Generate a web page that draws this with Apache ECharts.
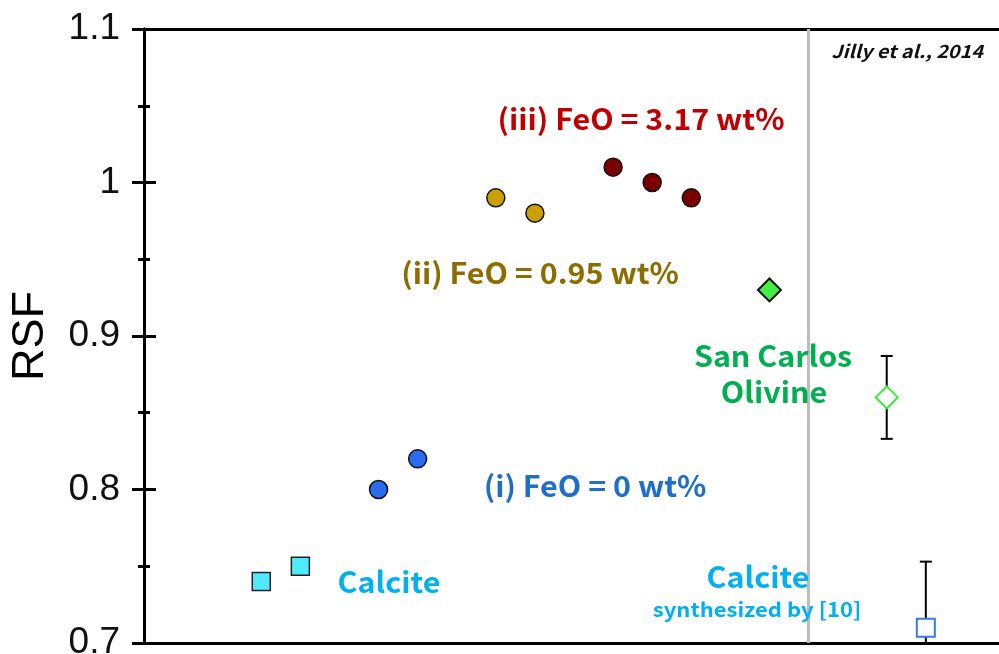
<!DOCTYPE html>
<html><head><meta charset="utf-8">
<script src="https://cdn.jsdelivr.net/npm/echarts@6/dist/echarts.min.js"></script>
<style>html,body{margin:0;padding:0;background:#fff}#c{width:999px;height:654px}</style>
</head><body><div id="c"></div>
<script>
// sample position index (x) and RSF values (y)
const calciteX = [3, 4];
const calciteY = [0.74, 0.75];
const feo0X = [6, 7];
const feo0Y = [0.80, 0.82];
const feo095X = [9, 10];
const feo095Y = [0.99, 0.98];
const feo317X = [12, 13, 14];
const feo317Y = [1.01, 1.00, 0.99];
const sanCarlosX = [16];
const sanCarlosY = [0.93];
// Jilly et al., 2014 reference values with error
const jillyOlivineX = [19];
const jillyOlivineY = [0.86];
const jillyOlivineErr = [0.027];
const jillyCalciteX = [20];
const jillyCalciteY = [0.71];
const jillyCalciteErr = [0.043];
const dividerX = 17;
const yTicks = [0.7, 0.8, 0.9, 1.0, 1.1];

const zip = (xs, ys) => xs.map((x, i) => [x, ys[i]]);
const errData = zip(jillyOlivineX, jillyOlivineY).map((p, i) => [p[0], p[1], jillyOlivineErr[i]])
  .concat(zip(jillyCalciteX, jillyCalciteY).map((p, i) => [p[0], p[1], jillyCalciteErr[i]]));

const chart = echarts.init(document.getElementById('c'));
const cjk = '"Noto Sans CJK JP", "Noto Sans", sans-serif';
function txt(text, x, y, size, color, sx, fontStyle) {
  return {
    type: 'text', x: x, y: y, z: 10, scaleX: sx || 1,
    style: { text: text, fill: color, font: (fontStyle || '') + ' bold ' + size + 'px ' + cjk, textAlign: 'center', textVerticalAlign: 'middle' }
  };
}
const axisFont = '"Liberation Sans", Arial, sans-serif';
chart.setOption({
  animation: false,
  grid: { left: 144, top: 29, width: 860, height: 614, outerBoundsMode: 'none', containLabel: false },
  xAxis: [
    { type: 'value', min: 0, max: 22, position: 'bottom', axisLine: { show: true, lineStyle: { color: '#000', width: 3 } }, axisTick: { show: false }, axisLabel: { show: false }, splitLine: { show: false } },
    { type: 'value', min: 0, max: 22, position: 'top', axisLine: { show: true, lineStyle: { color: '#000', width: 3 } }, axisTick: { show: false }, axisLabel: { show: false }, splitLine: { show: false } }
  ],
  yAxis: [
    { type: 'value', min: yTicks[0], max: yTicks[yTicks.length - 1], interval: 0.1, position: 'left',
      name: 'RSF', nameLocation: 'middle', nameGap: 91, nameRotate: 90,
      nameTextStyle: { fontFamily: axisFont, fontSize: 45, color: '#000' },
      axisLine: { show: true, lineStyle: { color: '#000', width: 3 } },
      axisTick: { show: true, inside: true, length: 12, lineStyle: { color: '#000', width: 3 } },
      minorTick: { show: true, splitNumber: 2, length: 6, lineStyle: { color: '#000', width: 3 } },
      axisLabel: { fontFamily: axisFont, fontSize: 37, color: '#111', margin: 24,
        formatter: v => String(Math.round(v * 10) / 10) },
      splitLine: { show: false } },
    { type: 'value', min: yTicks[0], max: yTicks[yTicks.length - 1], interval: 0.1, position: 'right',
      axisLine: { show: true, lineStyle: { color: '#000', width: 3 } },
      axisTick: { show: true, inside: true, length: 12, lineStyle: { color: '#000', width: 3 } },
      minorTick: { show: true, splitNumber: 2, length: 6, lineStyle: { color: '#000', width: 3 } },
      axisLabel: { show: false }, splitLine: { show: false } }
  ],
  series: [
    { type: 'scatter', data: [], markLine: { silent: true, symbol: 'none', label: { show: false },
        lineStyle: { color: '#bdbdbd', width: 3, type: 'solid' }, data: [{ xAxis: dividerX }] } },
    { type: 'custom', clip: true, z: 2, data: errData,
      renderItem: function (params, api) {
        const x = api.value(0), y = api.value(1), e = api.value(2);
        const top = api.coord([x, y + e]), bot = api.coord([x, y - e]);
        const w = 6;
        return { type: 'group', children: [
          { type: 'line', shape: { x1: top[0], y1: top[1], x2: bot[0], y2: bot[1] }, style: { stroke: '#000', lineWidth: 2 } },
          { type: 'line', shape: { x1: top[0] - w, y1: top[1], x2: top[0] + w, y2: top[1] }, style: { stroke: '#000', lineWidth: 2 } },
          { type: 'line', shape: { x1: bot[0] - w, y1: bot[1], x2: bot[0] + w, y2: bot[1] }, style: { stroke: '#000', lineWidth: 2 } }
        ] };
      } },
    { type: 'scatter', z: 5, data: zip(calciteX, calciteY), symbol: 'rect', symbolSize: 18,
      itemStyle: { color: '#50eaff', borderColor: '#222', borderWidth: 1.5, opacity: 1 } },
    { type: 'scatter', z: 5, data: zip(feo0X, feo0Y), symbol: 'circle', symbolSize: 18,
      itemStyle: { color: '#2a6cf0', borderColor: '#111', borderWidth: 1.5, opacity: 1 } },
    { type: 'scatter', z: 5, data: zip(feo095X, feo095Y), symbol: 'circle', symbolSize: 18,
      itemStyle: { color: '#c9a000', borderColor: '#111', borderWidth: 1.5, opacity: 1 } },
    { type: 'scatter', z: 5, data: zip(feo317X, feo317Y), symbol: 'circle', symbolSize: 18,
      itemStyle: { color: '#7a0000', borderColor: '#111', borderWidth: 1.5, opacity: 1 } },
    { type: 'scatter', z: 5, data: zip(sanCarlosX, sanCarlosY), symbol: 'diamond', symbolSize: 23,
      itemStyle: { color: '#44ee44', borderColor: '#111', borderWidth: 2, opacity: 1 } },
    { type: 'scatter', z: 5, data: zip(jillyOlivineX, jillyOlivineY), symbol: 'diamond', symbolSize: 22,
      itemStyle: { color: '#fff', borderColor: '#33ee33', borderWidth: 2, opacity: 1 } },
    { type: 'scatter', z: 5, data: zip(jillyCalciteX, jillyCalciteY), symbol: 'rect', symbolSize: 18,
      itemStyle: { color: '#fff', borderColor: '#3a78ee', borderWidth: 2, opacity: 1 } }
  ],
  graphic: [
    txt('(iii) FeO = 3.17 wt%', 641, 119, 29, '#c00000', 1.05),
    txt('(ii) FeO = 0.95 wt%', 540, 273, 29, '#8c6d00', 1.05),
    txt('(i) FeO = 0 wt%', 595, 486, 29, '#1f6fc9', 1.05),
    txt('Calcite', 389, 582, 29, '#00b0f0', 1.05),
    txt('San Carlos', 773, 356, 29, '#00b050', 1.05),
    txt('Olivine', 774, 392, 29, '#00b050', 1.05),
    txt('Calcite', 758, 577, 29, '#00b0f0', 1.05),
    txt('synthesized by [10]', 757, 609, 20, '#00b0f0', 1.1),
    txt('Jilly et al., 2014', 907, 51, 18, '#111', 1.1, 'italic')
  ]
});
</script></body></html>
